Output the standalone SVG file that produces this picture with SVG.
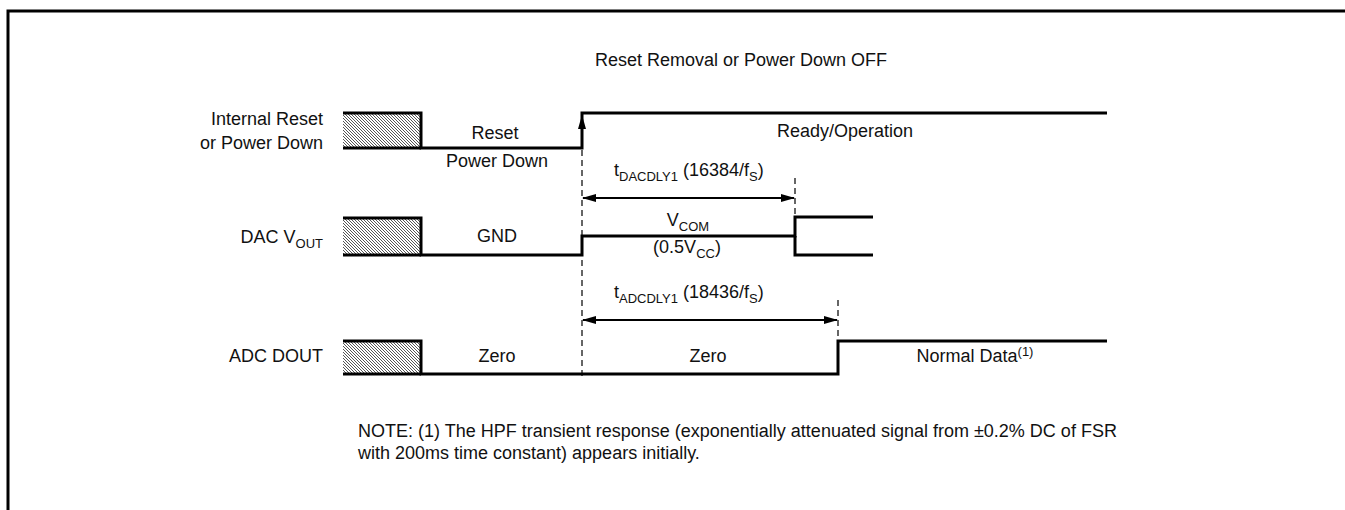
<svg xmlns="http://www.w3.org/2000/svg" width="1345" height="510" viewBox="0 0 1345 510">
<defs>
<pattern id="hatch" width="3" height="3" patternUnits="userSpaceOnUse">
<rect width="3" height="3" fill="#ffffff"/>
<rect x="0" y="0" width="1" height="1" fill="#555"/>
<rect x="1" y="1" width="1" height="1" fill="#555"/>
<rect x="2" y="2" width="1" height="1" fill="#555"/>
</pattern>
<marker id="ah" markerWidth="14" markerHeight="8" refX="13" refY="4" orient="auto-start-reverse" markerUnits="userSpaceOnUse">
<path d="M0,0 L14,4 L0,8 z" fill="#000"/>
</marker>
</defs>
<style>
text{font-family:"Liberation Sans",Arial,sans-serif;font-size:18px;fill:#111}
.sub{font-size:13px}
.sig{fill:none;stroke:#000;stroke-width:3}
.dash{fill:none;stroke:#000;stroke-width:1.2;stroke-dasharray:6 4}
.dim{fill:none;stroke:#000;stroke-width:2}
.box{fill:url(#hatch);stroke:none}
.r{text-anchor:end}
.m{text-anchor:middle}
</style>
<path d="M8,510 L8,11 L1345,11" fill="none" stroke="#000" stroke-width="3"/>
<text id="title" x="595" y="66">Reset Removal or Power Down OFF</text>

<g id="reset-row">
<rect class="box" x="343" y="114" width="78" height="33"/>
<path class="sig" d="M343,113 L421,113 L421,148 L582,148 L582,113 L1107,113"/>
<path class="sig" d="M343,148 L421,148"/>
<path d="M582,115 L578,129 L586,129 z" fill="#000"/>
<text class="r" x="323" y="125">Internal Reset</text>
<text class="r" x="323" y="149">or Power Down</text>
<text class="m" x="495" y="139">Reset</text>
<text class="m" x="497" y="167">Power Down</text>
<text class="m" x="845" y="137">Ready/Operation</text>
</g>

<g id="dac-row">
<rect class="box" x="343" y="219" width="78" height="35"/>
<path class="sig" d="M343,218 L421,218 L421,255 L582,255 L582,236 L795,236 L795,217 L873,217"/>
<path class="sig" d="M343,255 L421,255 M795,236 L795,255 L873,255"/>
<text class="r" x="323" y="243">DAC V<tspan class="sub" dy="5">OUT</tspan></text>
<text class="m" x="497" y="242">GND</text>
<text class="m" x="688" y="226">V<tspan class="sub" dy="5">COM</tspan></text>
<text class="m" x="687" y="253">(0.5V<tspan class="sub" dy="5">CC</tspan><tspan dy="-5">)</tspan></text>
</g>

<g id="adc-row">
<rect class="box" x="343" y="342" width="78" height="31"/>
<path class="sig" d="M343,341 L421,341 L421,374 L838,374 L838,341 L1107,341"/>
<path class="sig" d="M343,374 L421,374"/>
<text class="r" x="323" y="362">ADC DOUT</text>
<text class="m" x="497" y="362">Zero</text>
<text class="m" x="708" y="362">Zero</text>
<text class="m" x="975" y="362">Normal Data<tspan class="sub" dy="-6">(1)</tspan></text>
</g>

<g id="connectors">
<path class="dash" d="M582,150 L582,376"/>
<path class="dash" d="M795,178 L795,217"/>
<path class="dash" d="M838,300 L838,341"/>
<path class="dim" d="M583,198 L794,198" marker-start="url(#ah)" marker-end="url(#ah)"/>
<path class="dim" d="M583,320 L837,320" marker-start="url(#ah)" marker-end="url(#ah)"/>
</g>

<g id="labels">
<text x="614" y="176">t<tspan class="sub" dy="5">DACDLY1</tspan><tspan dy="-5"> (16384/f</tspan><tspan class="sub" dy="5">S</tspan><tspan dy="-5">)</tspan></text>
<text x="614" y="298">t<tspan class="sub" dy="5">ADCDLY1</tspan><tspan dy="-5"> (18436/f</tspan><tspan class="sub" dy="5">S</tspan><tspan dy="-5">)</tspan></text>
</g>

<g id="note">
<text x="358" y="437">NOTE: (1) The HPF transient response (exponentially attenuated signal from ±0.2% DC of FSR</text>
<text x="358" y="459">with 200ms time constant) appears initially.</text>
</g>
</svg>
